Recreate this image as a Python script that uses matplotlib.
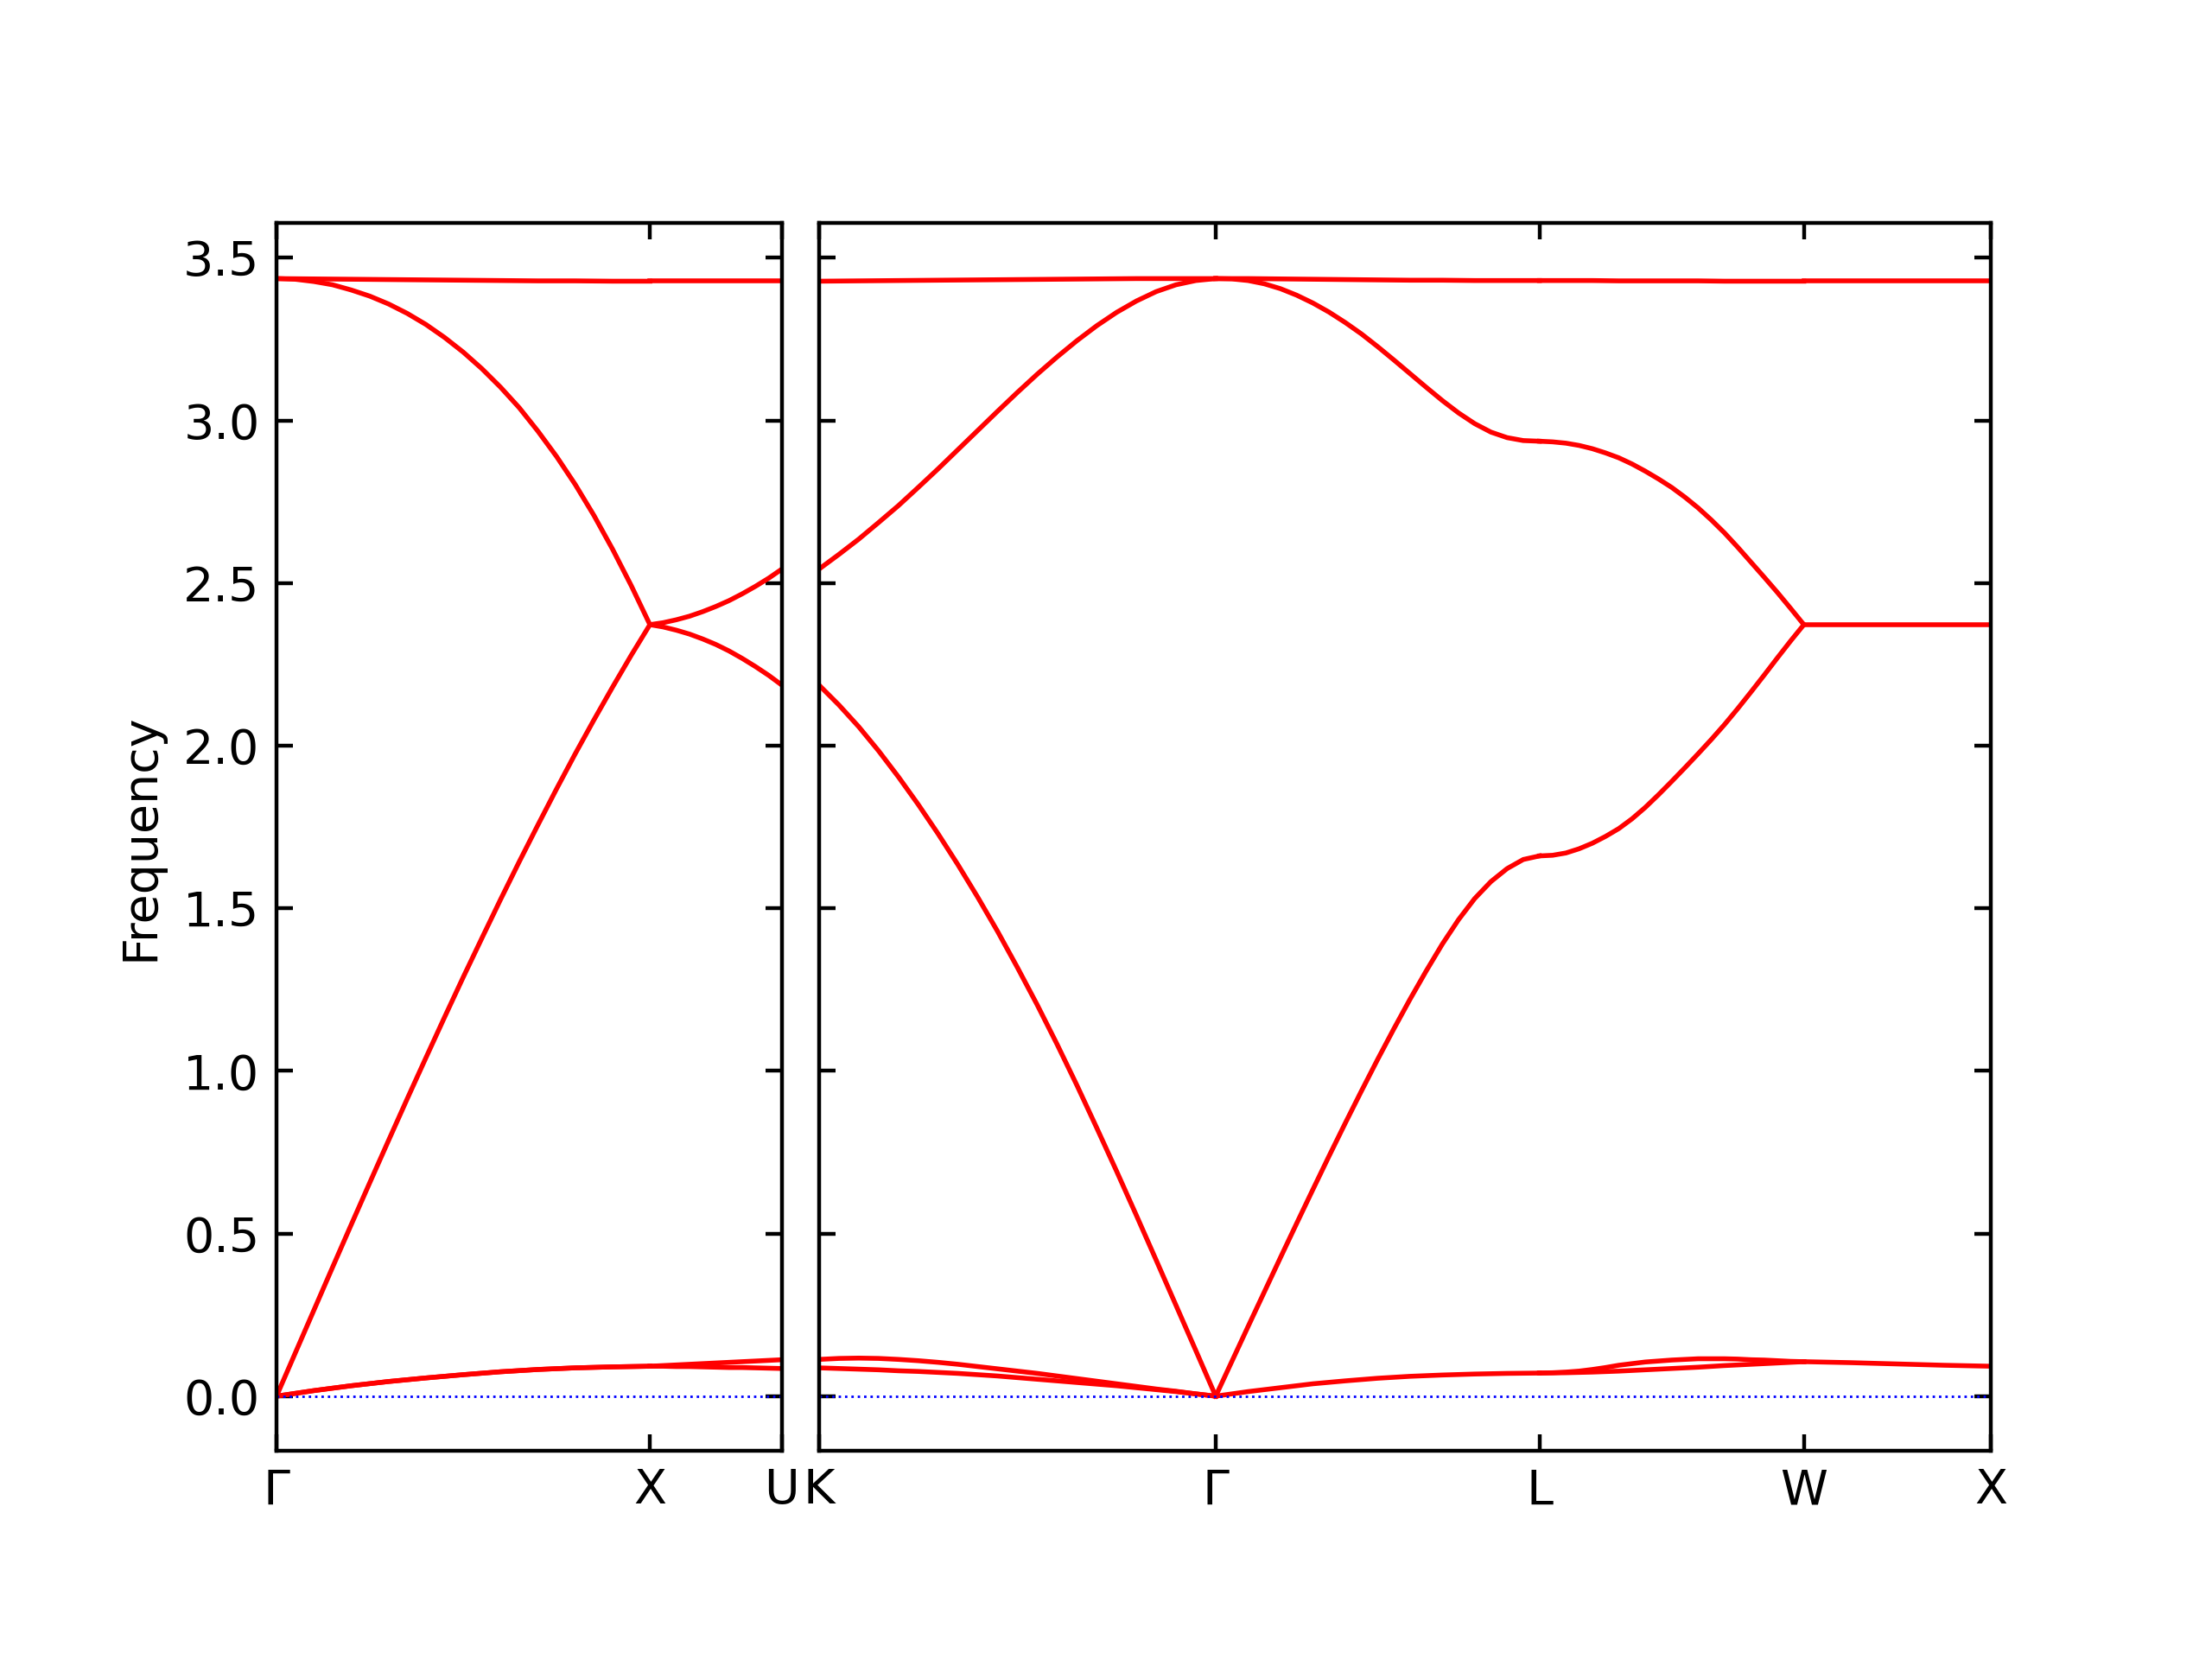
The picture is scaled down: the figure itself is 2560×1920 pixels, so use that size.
import matplotlib
matplotlib.use('Agg')
import matplotlib.pyplot as plt
import numpy as np

# Path lengths between special points (reciprocal-space distance)
len_GX = 1.0
len_XU = 0.3536
len_KG = 1.0607
len_GL = 0.8660
len_LW = 0.7071
len_WX = 0.5

# fractional positions along a segment where values were read
t21 = [0.0, 0.05, 0.1, 0.15, 0.2, 0.25, 0.3, 0.35, 0.4, 0.45, 0.5,
       0.55, 0.6, 0.65, 0.7, 0.75, 0.8, 0.85, 0.9, 0.95, 1.0]
t11 = [0.0, 0.1, 0.2, 0.3, 0.4, 0.5, 0.6, 0.7, 0.8, 0.9, 1.0]
t5 = [0.0, 0.25, 0.5, 0.75, 1.0]

# Gamma - X
gx_low = [0, 0.017, 0.032, 0.045, 0.056, 0.066, 0.075, 0.082, 0.087, 0.090, 0.092]
gx_lin = [0, 0.132, 0.264, 0.396, 0.527, 0.657, 0.786, 0.914, 1.040, 1.165, 1.288,
          1.408, 1.527, 1.643, 1.756, 1.867, 1.975, 2.079, 2.180, 2.278, 2.372]
gx_down = [3.436, 3.434, 3.427, 3.417, 3.401, 3.382, 3.358, 3.329, 3.295, 3.255, 3.210,
           3.159, 3.102, 3.039, 2.967, 2.889, 2.803, 2.708, 2.604, 2.492, 2.372]
gx_top = [3.436, 3.435, 3.434, 3.433, 3.432, 3.431, 3.430, 3.429, 3.429, 3.428, 3.428]

# X - U
xu_low_up = [0.092, 0.094, 0.096, 0.098, 0.100, 0.102, 0.104, 0.106, 0.108, 0.110, 0.112]
xu_low_dn = [0.092, 0.092, 0.091, 0.091, 0.090, 0.089, 0.088, 0.088, 0.087, 0.086, 0.085]
xu_mid_up = [2.372, 2.378, 2.387, 2.398, 2.412, 2.428, 2.446, 2.467, 2.490, 2.515, 2.543]
xu_mid_dn = [2.372, 2.365, 2.355, 2.343, 2.328, 2.311, 2.291, 2.268, 2.243, 2.216, 2.186]
xu_top = [3.428, 3.428, 3.428, 3.428, 3.428, 3.428, 3.428, 3.428, 3.428, 3.428, 3.428]

# K - Gamma
kg_low_up = [0.113, 0.116, 0.117, 0.116, 0.113, 0.109, 0.104, 0.098, 0.091, 0.084, 0.077,
             0.070, 0.062, 0.054, 0.046, 0.038, 0.030, 0.022, 0.015, 0.007, 0]
kg_low_dn = [0.087, 0.085, 0.083, 0.081, 0.078, 0.076, 0.073, 0.070, 0.066, 0.062, 0.057,
             0.052, 0.047, 0.042, 0.037, 0.032, 0.026, 0.020, 0.014, 0.007, 0]
kg_mid_dn = [2.186, 2.125, 2.058, 1.984, 1.904, 1.819, 1.729, 1.634, 1.534, 1.429, 1.318,
             1.203, 1.082, 0.956, 0.825, 0.692, 0.556, 0.418, 0.279, 0.140, 0]
kg_mid_up = [2.543, 2.588, 2.635, 2.686, 2.738, 2.794, 2.851, 2.910, 2.969, 3.028, 3.086,
             3.142, 3.195, 3.245, 3.291, 3.332, 3.367, 3.396, 3.417, 3.430, 3.436]
kg_top = [3.428, 3.429, 3.430, 3.431, 3.432, 3.433, 3.434, 3.435, 3.436, 3.436, 3.436]

# Gamma - L
gl_low = [0, 0.014, 0.026, 0.038, 0.047, 0.055, 0.061, 0.065, 0.068, 0.070, 0.071]
gl_lin = [0, 0.107, 0.214, 0.320, 0.426, 0.531, 0.635, 0.738, 0.839, 0.938, 1.035,
          1.129, 1.220, 1.307, 1.390, 1.465, 1.530, 1.582, 1.622, 1.650, 1.661]
gl_down = [3.436, 3.435, 3.430, 3.420, 3.405, 3.385, 3.361, 3.333, 3.301, 3.266, 3.227,
           3.186, 3.144, 3.102, 3.061, 3.023, 2.990, 2.964, 2.947, 2.938, 2.936]
gl_top = [3.436, 3.436, 3.435, 3.434, 3.433, 3.432, 3.431, 3.431, 3.430, 3.430, 3.430]

# L - W
lw_low_up = [0.071, 0.072, 0.074, 0.077, 0.082, 0.088, 0.095, 0.100, 0.105, 0.108, 0.111,
             0.113, 0.115, 0.115, 0.115, 0.114, 0.112, 0.111, 0.109, 0.107, 0.106]
lw_low_dn = [0.071, 0.072, 0.074, 0.077, 0.081, 0.085, 0.089, 0.094, 0.098, 0.102, 0.106]
lw_mid_lo = [1.661, 1.663, 1.670, 1.683, 1.700, 1.721, 1.745, 1.775, 1.810, 1.849, 1.890,
             1.932, 1.975, 2.019, 2.065, 2.114, 2.165, 2.217, 2.270, 2.322, 2.372]
lw_mid_hi = [2.936, 2.934, 2.930, 2.923, 2.913, 2.900, 2.885, 2.866, 2.844, 2.820, 2.794,
             2.764, 2.731, 2.694, 2.654, 2.610, 2.564, 2.518, 2.471, 2.422, 2.372]
lw_top = [3.430, 3.430, 3.430, 3.429, 3.429, 3.429, 3.429, 3.428, 3.428, 3.428, 3.428]

# W - X
wx_low = [0.106, 0.103, 0.099, 0.095, 0.092]
wx_mid = [2.372, 2.372, 2.372, 2.372, 2.372]
wx_top = [3.428, 3.428, 3.428, 3.428, 3.428]

left_labels = ['Γ', 'X', 'U']
right_labels = ['K', 'Γ', 'L', 'W', 'X']
yticks = [0.0, 0.5, 1.0, 1.5, 2.0, 2.5, 3.0, 3.5]

# cumulative distances of the special points
x_G0 = 0.0
x_X0 = x_G0 + len_GX
x_U = x_X0 + len_XU
x_K = x_U
x_G1 = x_K + len_KG
x_L = x_G1 + len_GL
x_W = x_L + len_LW
x_X1 = x_W + len_WX


def plot_segment(ax, x0, length, bands):
    # each band is drawn against its own set of sample positions
    for t, b in bands:
        x = x0 + np.array(t) * length
        ax.plot(x, b, 'r-', linewidth=1.0)


fig = plt.figure(figsize=(6.4, 4.8), dpi=400)
ax1 = fig.add_axes([0.125, 0.1255, 0.3535 - 0.125, 0.7401])
ax2 = fig.add_axes([0.3703, 0.1255, 0.9 - 0.3703, 0.7401])

plot_segment(ax1, x_G0, len_GX, [(t11, gx_low), (t11, gx_low), (t21, gx_lin),
                                 (t21, gx_down), (t11, gx_top)])
plot_segment(ax1, x_X0, len_XU, [(t11, xu_low_up), (t11, xu_low_dn), (t11, xu_mid_up),
                                 (t11, xu_mid_dn), (t11, xu_top)])
plot_segment(ax2, x_K, len_KG, [(t21, kg_low_up), (t21, kg_low_dn), (t21, kg_mid_dn),
                                (t21, kg_mid_up), (t11, kg_top)])
plot_segment(ax2, x_G1, len_GL, [(t11, gl_low), (t21, gl_lin), (t21, gl_down), (t11, gl_top)])
plot_segment(ax2, x_L, len_LW, [(t21, lw_low_up), (t11, lw_low_dn), (t21, lw_mid_lo),
                                (t21, lw_mid_hi), (t11, lw_top)])
plot_segment(ax2, x_W, len_WX, [(t5, wx_low), (t5, wx_mid), (t5, wx_top)])

ax1.plot([x_G0, x_U], [0, 0], 'b:', linewidth=0.5)
ax2.plot([x_K, x_X1], [0, 0], 'b:', linewidth=0.5)

for ax in (ax1, ax2):
    ax.set_ylim(-0.168, 3.607)
    ax.set_yticks(yticks)
    ax.tick_params(direction='in', top=True, right=True, labelsize=10)

ax1.set_xlim(x_G0, x_U)
ax1.set_xticks([x_G0, x_X0, x_U])
ax1.set_xticklabels(left_labels)
ax1.set_ylabel('Frequency')

ax2.set_xlim(x_K, x_X1)
ax2.set_xticks([x_K, x_G1, x_L, x_W, x_X1])
ax2.set_xticklabels(right_labels)
ax2.tick_params(labelleft=False)

fig.savefig('out.png', dpi=400)
